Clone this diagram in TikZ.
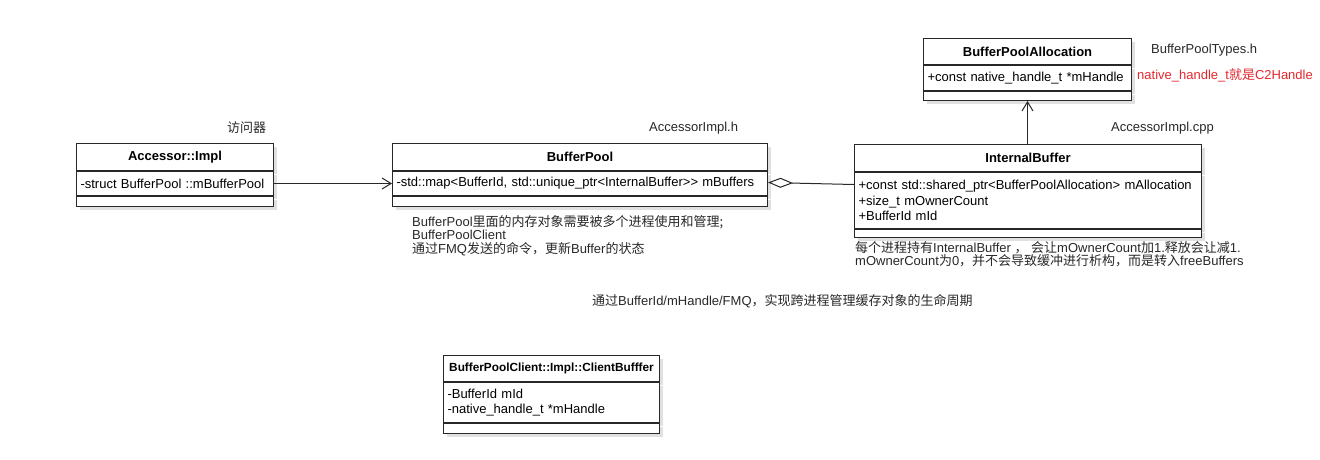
\documentclass[tikz,border=0pt]{standalone}
\usepackage{fontspec}
\setmainfont{Liberation Sans}
\newfontfamily\cjk{Noto Sans CJK SC}
\newcommand{\zh}[1]{{\cjk #1}}
\usetikzlibrary{positioning,arrows.meta,shadows}
\definecolor{umlline}{RGB}{40,40,40}
\definecolor{notered}{RGB}{228,40,48}
\tikzset{
  umlpart/.style={draw=umlline, fill=white, line width=1pt, inner xsep=4pt, inner ysep=0pt,
    drop shadow={shadow xshift=3pt, shadow yshift=-3pt, opacity=.12, fill=black}},
  umlhead/.style={umlpart, font=\bfseries\fontsize{13}{15.5}\selectfont, align=center,
    text width=#1, anchor=north west, minimum height=27pt},
  umlfoot/.style={umlpart, minimum height=10pt},
  note/.style={inner sep=0pt, align=left, text=umlline, font=\fontsize{13}{13.6}\selectfont}
}
\begin{document}
\begin{tikzpicture}[x=1pt, y=-1pt]
  \fill[white] (0,0) rectangle (1320,459);
  % Accessor::Impl
  \node[umlhead=189pt] (acc) at (76,143) {Accessor::Impl};
  \node[umlpart, font=\fontsize{13}{15.5}\selectfont, align=left, text width=189pt,
        minimum height=24pt, below=0pt of acc] (acc-attr) {-struct BufferPool ::mBufferPool};
  \node[umlfoot, text width=189pt, below=0pt of acc-attr] (acc-foot) {};
  % BufferPool
  \node[umlhead=367pt] (pool) at (392,143) {BufferPool};
  \node[umlpart, font=\fontsize{13}{15.5}\selectfont, align=left, text width=367pt,
        minimum height=24pt, below=0pt of pool] (pool-attr) {-std::map<BufferId, std::unique\_ptr<InternalBuffer>{}> mBuffers};
  \node[umlfoot, text width=367pt, below=0pt of pool-attr] (pool-foot) {};
  % InternalBuffer
  \node[umlhead=339pt] (ibuf) at (854,144) {InternalBuffer};
  \node[umlpart, font=\fontsize{13}{15.5}\selectfont, align=left, text width=339pt,
        minimum height=56pt, below=0pt of ibuf] (ibuf-attr)
        {+const std::shared\_ptr<BufferPoolAllocation> mAllocation\\+size\_t mOwnerCount\\+BufferId mId};
  \node[umlfoot, text width=339pt, minimum height=8pt, below=0pt of ibuf-attr] (ibuf-foot) {};
  % BufferPoolAllocation
  \node[umlhead=200pt, minimum height=26pt] (alloc) at (923,38) {BufferPoolAllocation};
  \node[umlpart, font=\fontsize{13}{15.5}\selectfont, align=left, text width=200pt,
        minimum height=25pt, below=0pt of alloc] (alloc-attr) {+const native\_handle\_t *mHandle};
  \node[umlfoot, text width=200pt, minimum height=9pt, below=0pt of alloc-attr] (alloc-foot) {};
  % BufferPoolClient::Impl::ClientBufffer
  \node[umlhead=208pt, minimum height=26pt, font=\bfseries\fontsize{11.8}{14}\selectfont] (cbuf) at (443,355) {BufferPoolClient::Impl::ClientBufffer};
  \node[umlpart, font=\fontsize{13}{15}\selectfont, align=left, text width=208pt,
        minimum height=40pt, below=0pt of cbuf] (cbuf-attr) {-BufferId mId\\-native\_handle\_t *mHandle};
  \node[umlfoot, text width=208pt, below=0pt of cbuf-attr] (cbuf-foot) {};

  % connectors
  \draw[umlline, line width=1pt, -{Straight Barb[length=9pt,width=11pt]}] (acc-attr.east) -- (pool-attr.west);
  \draw[umlline, line width=1pt, {Diamond[open,fill=white,length=25pt,width=10pt]}-]
    ([yshift=1pt]pool-attr.east) -- ([yshift=-1pt]pool-attr.east -| ibuf-attr.west);
  \draw[umlline, line width=1pt, -{Straight Barb[length=9pt,width=11pt]}] (ibuf.north -| alloc-foot.south) -- (alloc-foot.south);

  % notes
  \node[note, anchor=west] (acc-note) at (227,128) {\zh{访问器}};
  \node[note, anchor=west] (pool-file) at (649,128) {AccessorImpl.h};
  \node[note, anchor=west] (ibuf-file) at (1111,128) {AccessorImpl.cpp};
  \node[note, anchor=west] (alloc-file) at (1151,50) {BufferPoolTypes.h};
  \node[note, anchor=west, text=notered] (alloc-note) at (1137,75) {native\_handle\_t\zh{就是}C2Handle};
  \node[note, anchor=north west] (pool-note) at (412,215)
    {BufferPool\zh{里面的内存对象需要被多个进程使用和管理;}\\BufferPoolClient\\\zh{通过}FMQ\zh{发送的命令，更新}Buffer\zh{的状态}};
  \node[note, anchor=north west] (ibuf-note) at (855,241)
    {\zh{每个进程持有}InternalBuffer \zh{，}\ \zh{会让}mOwnerCount\zh{加}1.\zh{释放会让减}1.\\mOwnerCount\zh{为}0\zh{，并不会导致缓冲进行析构，而是转入}freeBuffers};
  \node[note, anchor=west] (life-note) at (592,301)
    {\zh{通过}BufferId/mHandle/FMQ\zh{，实现跨进程管理缓存对象的生命周期}};
\end{tikzpicture}
\end{document}
